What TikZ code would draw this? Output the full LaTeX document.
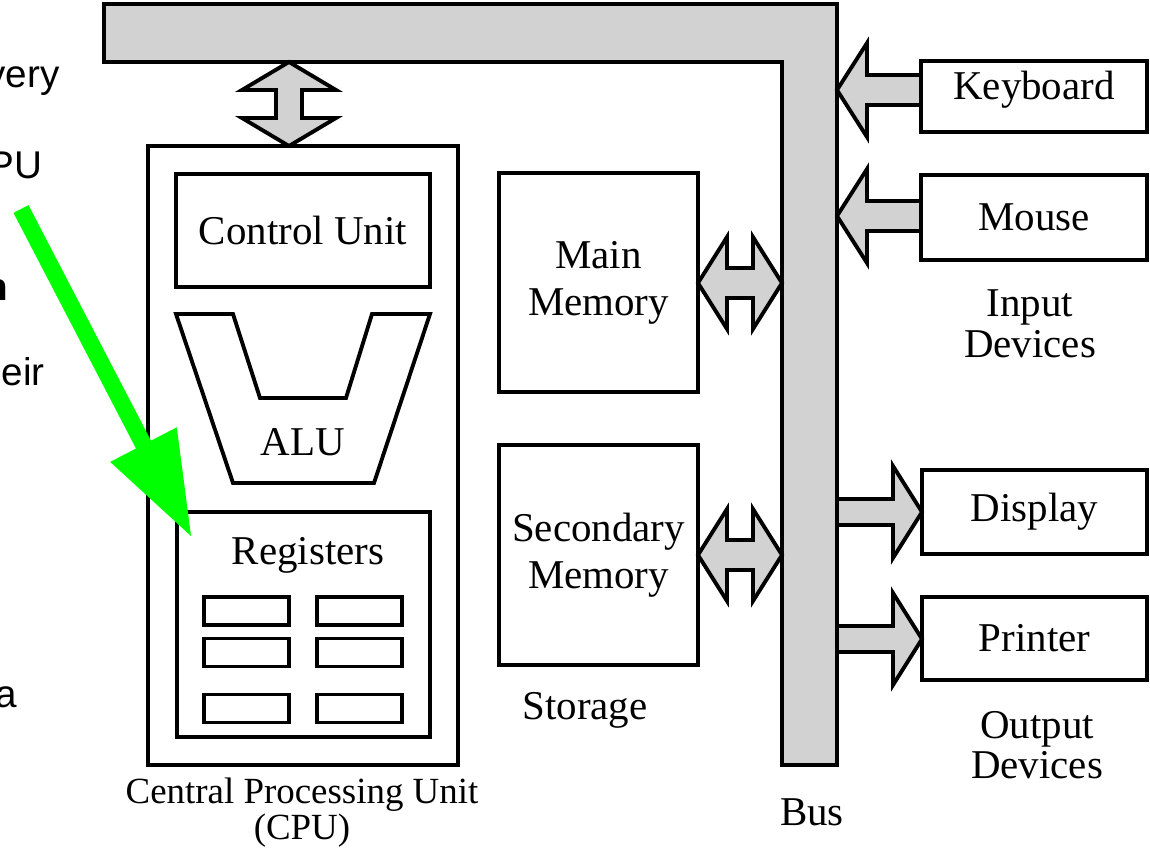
\documentclass[tikz,border=0pt]{standalone}
\usepackage{fontspec}
\setmainfont{Liberation Serif}
\newfontfamily\notesans{Liberation Sans}

% block arrow pointing left: tip x, head base x, tail x, centre y
\newcommand\leftblock[4]{%
  \filldraw[busfill] (#1,#4) -- (#2,#4-47) -- (#2,#4-15) -- (#3,#4-15)
    -- (#3,#4+15) -- (#2,#4+15) -- (#2,#4+47) -- cycle;}
% block arrow pointing right: tail x, head base x, tip x, centre y
\newcommand\rightblock[4]{%
  \filldraw[busfill] (#1,#4-13) -- (#2,#4-13) -- (#2,#4-46) -- (#3,#4)
    -- (#2,#4+46) -- (#2,#4+13) -- (#1,#4+13) -- cycle;}
% horizontal two-way block arrow: left tip, left base, right base, right tip, centre y
\newcommand\twowayblock[5]{%
  \filldraw[busfill] (#1,#5) -- (#2,#5-46) -- (#2,#5-15) -- (#3,#5-15)
    -- (#3,#5-46) -- (#4,#5) -- (#3,#5+46) -- (#3,#5+15) -- (#2,#5+15)
    -- (#2,#5+46) -- cycle;}

\begin{document}
\begin{tikzpicture}[x=0.02cm,y=-0.02cm,
  unit/.style={draw,line width=2.2pt,inner sep=0pt,align=center,
    font=\fontsize{23.3}{26.7}\selectfont},
  caption/.style={inner sep=0pt,align=center,font=\fontsize{23.3}{23.5}\selectfont},
  cell/.style={draw,line width=1.8pt,minimum width=1.7cm,minimum height=0.56cm,inner sep=0pt},
  busfill/.style={draw,fill=gray!35,line width=2.2pt,line join=miter},
  note/.style={inner sep=0pt,anchor=base east,font=\notesans\fontsize{22}{26}\selectfont},
  pointer/.style={fill=green}]
\useasboundingbox (0,0) rectangle (1150,855);

% system bus
\filldraw[busfill] (104,4) -- (837,4) -- (837,765) -- (782,765) -- (782,62) -- (104,62) -- cycle;

% processor
\node[unit,minimum width=6.2cm,minimum height=12.38cm] (cpu) at (303,455.5) {};
\node[unit,minimum width=5.08cm,minimum height=2.26cm] (cu) at (303,230.5) {Control Unit};
\draw[line width=2.2pt,line join=miter] (176,314) -- (233,314) -- (260,398) -- (346,398)
  -- (372,314) -- (430,314) -- (374,483) -- (233,483) -- cycle;
\node[caption] (alu) at (303,442) {ALU};
\node[unit,minimum width=5.06cm,minimum height=4.5cm] (regs) at (303.5,624.5) {};
\node[caption] (regtitle) at (308,555) {Registers};
\node[cell] (r11) at (246.5,611) {};
\node[cell] (r12) at (359.5,611) {};
\node[cell] (r21) at (246.5,652.5) {};
\node[cell] (r22) at (359.5,652.5) {};
\node[cell] (r31) at (246.5,708.5) {};
\node[cell] (r32) at (359.5,708.5) {};
\node[caption,font=\fontsize{21}{20.5}\selectfont] (cpulabel) at (302,813)
  {Central Processing Unit\\(CPU)};

% storage
\node[unit,minimum width=3.98cm,minimum height=4.38cm] (mm) at (598.5,282.5) {Main\\Memory};
\node[unit,minimum width=3.98cm,minimum height=4.4cm] (sm) at (598.5,555) {Secondary\\Memory};
\node[caption] (storage) at (585,710) {Storage};

% input devices
\node[unit,minimum width=4.52cm,minimum height=1.42cm] (kbd) at (1034,96.5) {};
\node[caption] (kbdtext) at (1034,90) {Keyboard};
\node[unit,minimum width=4.52cm,minimum height=1.7cm] (mouse) at (1034,217.5) {Mouse};
\node[caption,font=\fontsize{23.3}{23.3}\selectfont] (inlabel) at (1030,324) {Input\\Devices};

% output devices
\node[unit,minimum width=4.5cm,minimum height=1.68cm] (disp) at (1034.5,512) {Display};
\node[unit,minimum width=4.5cm,minimum height=1.66cm] (prn) at (1034.5,638.5) {Printer};
\node[caption,font=\fontsize{23.3}{22.7}\selectfont] (outlabel) at (1037,745) {Output\\Devices};

\node[caption] (buslabel) at (812,812) {Bus};

% transfers to and from the bus
\filldraw[busfill] (289,62) -- (336,90) -- (302,90) -- (302,118) -- (336,118) -- (289,146)
  -- (242,118) -- (276,118) -- (276,90) -- (242,90) -- cycle;
\twowayblock{698}{727}{753}{782}{283}
\twowayblock{698}{727}{753}{782}{555}
\leftblock{837}{867}{921}{90}
\leftblock{837}{867}{921}{216}
\rightblock{837}{893}{922}{512}
\rightblock{837}{893}{922}{639}

% text running in from the left margin
\node[note] (t1) at (60,88) {very};
\node[note] (t2) at (43,178) {PU};
\node[note,font=\notesans\bfseries\fontsize{22}{26}\selectfont] (t3) at (8,300) {n};
\node[note] (t4) at (45,385) {heir};
\node[note] (t5) at (17,707) {a};

% highlight arrow onto the registers
\fill[pointer] (28.5,205.1) -- (151,440.7) -- (176.8,427.3) -- (191,536) -- (110.2,461.9)
  -- (136,448.5) -- (13.5,212.9) -- cycle;
\end{tikzpicture}
\end{document}
